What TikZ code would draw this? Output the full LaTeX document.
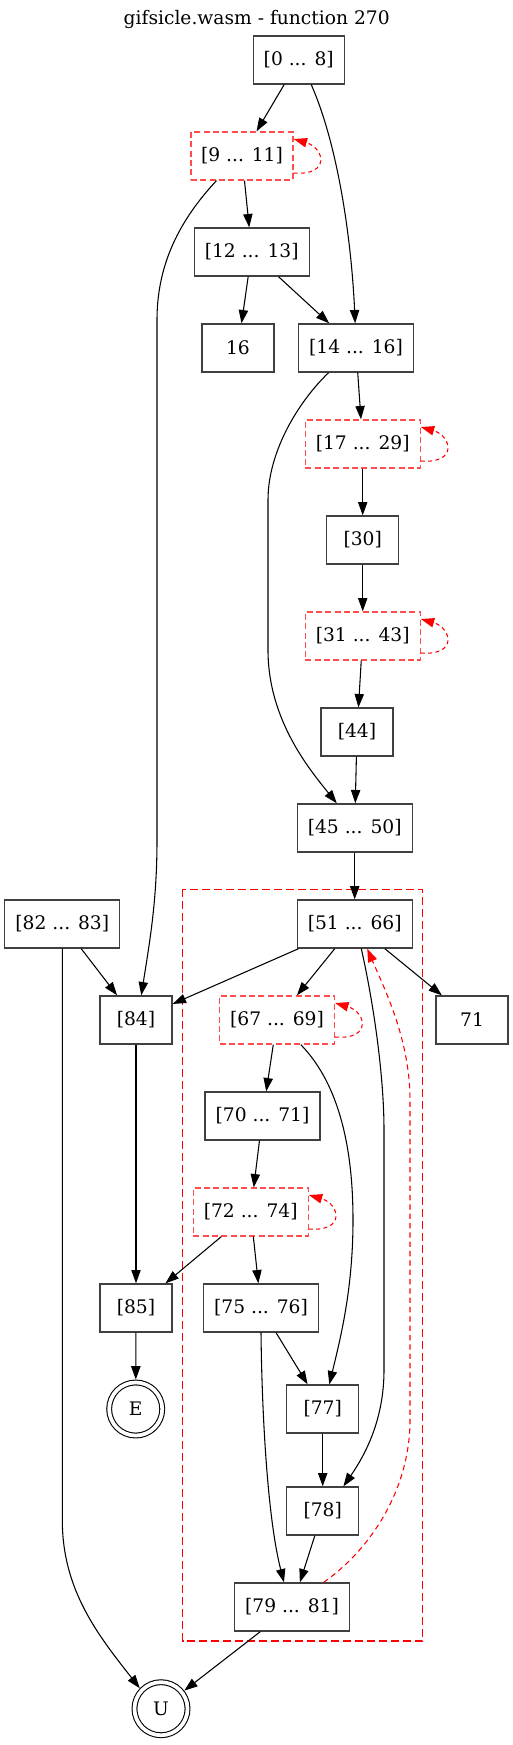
\documentclass[tikz,border=0pt]{standalone}
\usepackage{fontspec}
\setmainfont{DejaVu Serif}
\usepackage{xcolor}
\usepackage{tikz}
\usetikzlibrary{calc,arrows.meta}
\definecolor{ink}{HTML}{000000}
\definecolor{frame}{HTML}{404040}
\definecolor{loopred}{HTML}{FF4D4D}
\definecolor{backred}{HTML}{FF0000}
\tikzset{
  blk/.style={draw=frame, line width=1pt, minimum width=54pt, minimum height=36pt, inner sep=0pt, font=\fontsize{14pt}{16pt}\selectfont},
  lp/.style={blk, draw=loopred, dash pattern=on 4.5pt off 2.5pt},
  wide/.style={minimum width=86.25pt},
  term/.style={circle, draw=ink, line width=0.8pt, double, double distance=2.8pt, minimum size=39.8pt, inner sep=0pt, outer sep=2.2pt, font=\fontsize{14pt}{16pt}\selectfont},
  flow/.style={draw=ink, line width=0.8pt, -{Triangle[length=10pt,width=7pt]}},
  backedge/.style={draw=backred, line width=0.8pt, dash pattern=on 4pt off 3pt, -{Triangle[length=10pt,width=7pt]}},
  clu/.style={draw=backred, line width=0.8pt, dash pattern=on 6pt off 3pt},
  ttl/.style={font=\fontsize{14pt}{16pt}\selectfont},
}
\begin{document}
\begin{tikzpicture}[x=0.75pt, y=-0.75pt]
  \useasboundingbox (0,0) rectangle (513,1745);
  \node[ttl] (title) at (256.7,19) {gifsicle.wasm - function 270};
  \draw[clu] (182.7,889.3) rectangle (422.7,1641);

  \node[blk,minimum width=68.25pt] (b0) at (298.7,60) {[0 ... 8]};
  \node[lp,minimum width=76.5pt] (b9) at (242,156) {[9 ... 11]};
  \node[blk,wide] (b12) at (251.7,252) {[12 ... 13]};
  \node[blk] (b16) at (238,348) {16};
  \node[blk,wide] (b14) at (356,348) {[14 ... 16]};
  \node[lp,wide] (b17) at (362.7,444) {[17 ... 29]};
  \node[blk] (b30) at (362.7,540) {[30]};
  \node[lp,wide] (b31) at (362.7,636) {[31 ... 43]};
  \node[blk] (b44) at (357,732) {[44]};
  \node[blk,wide] (b45) at (354.7,828) {[45 ... 50]};
  \node[blk,wide] (b82) at (62.3,924) {[82 ... 83]};
  \node[blk,wide] (b51) at (354.7,924) {[51 ... 66]};
  \node[blk] (b84) at (136,1020) {[84]};
  \node[lp,wide] (b67) at (277,1020) {[67 ... 69]};
  \node[blk] (b71) at (472,1020) {71};
  \node[blk,wide] (b70) at (262.5,1116) {[70 ... 71]};
  \node[lp,wide] (b72) at (250.7,1212) {[72 ... 74]};
  \node[blk] (b85) at (136,1308) {[85]};
  \node[blk,wide] (b75) at (261,1308) {[75 ... 76]};
  \node[blk] (b77) at (322.7,1409) {[77]};
  \node[blk] (b78) at (322.7,1511) {[78]};
  \node[blk,wide] (b79) at (292,1607) {[79 ... 81]};
  \node[term] (nE) at (135.7,1409) {E};
  \node[term] (nU) at (161,1708.7) {U};

  % self loops
  \foreach \n in {b9,b17,b31,b67,b72}
    \draw[backedge, draw=backred, dash pattern=on 3pt off 2.5pt] ([yshift=-12.75pt]\n.east) .. controls +(37,3) and +(31,9) .. ([yshift=12.75pt]\n.east);

  \draw[flow] (b0) -- (b9);
  \draw[flow] (b0.-63) .. controls (340,150) and (352,250) .. (b14.92);
  \draw[flow] (b9) -- (b12);
  \draw[flow] (b9.-136) .. controls (175,225) and (157,270) .. (157,320) -- (157,840) .. controls (157,900) and (150,940) .. (b84.78);
  \draw[flow] (b12) -- (b16);
  \draw[flow] (b12) -- (b14);
  \draw[flow] (b14) -- (b17);
  \draw[flow] (b14.-138) .. controls (300,400) and (268,450) .. (268,500) -- (268,650) .. controls (268,720) and (310,770) .. (b45.126);
  \draw[flow] (b17) -- (b30);
  \draw[flow] (b30) -- (b31);
  \draw[flow] (b31) -- (b44);
  \draw[flow] (b44) -- (b45);
  \draw[flow] (b45) -- (b51);
  \draw[flow] (b82) -- (b84);
  \draw[flow] (b82.south) -- (62.3,1520) .. controls (62.3,1590) and (98,1635) .. (nU.136);
  \draw[flow] (b51) -- (b84);
  \draw[flow] (b51) -- (b67);
  \draw[flow] (b51) -- (b71);
  \draw[flow] (b51.-75) .. controls (375,1010) and (384,1080) .. (384,1130) -- (384,1370) .. controls (384,1420) and (365,1455) .. (b78.50);
  \draw[flow] (b67) -- (b70);
  \draw[flow] (b67.-46) .. controls (340,1085) and (353,1150) .. (353,1220) .. controls (353,1290) and (340,1340) .. (b77.75);
  \draw[flow] (b70) -- (b72);
  \draw[flow] (b72) -- (b85);
  \draw[flow] (b72) -- (b75);
  \draw[flow] (b84) -- (b85);
  \draw[flow] (b85) -- (nE);
  \draw[flow] (b75) -- (b77);
  \draw[flow] (b75.south) .. controls (262,1420) and (268,1520) .. (b79.108);
  \draw[flow] (b77) -- (b78);
  \draw[flow] (b78) -- (b79);
  \draw[flow] (b79) -- (nU);
  \draw[backedge] (b79.38) .. controls (370,1550) and (410,1490) .. (410,1420) -- (410,1100) .. controls (410,1040) and (385,990) .. (b51.-63);
\end{tikzpicture}
\end{document}
